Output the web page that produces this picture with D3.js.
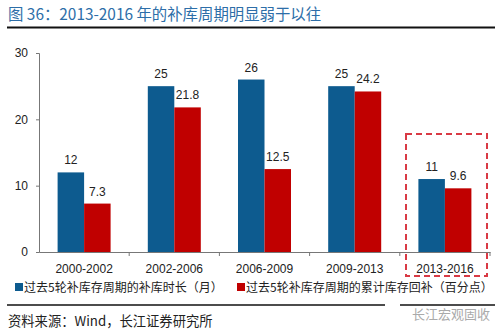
<!DOCTYPE html>
<html><head><meta charset="utf-8">
<script src="https://cdn.jsdelivr.net/npm/d3@7"></script>
<style>body{margin:0;background:#fff;}svg{display:block;font-family:"Liberation Sans",Arial,"Noto Sans CJK SC",sans-serif;}</style>
</head><body>
<svg id="c" width="500" height="335"></svg>
<script>
const categories = ["2000-2002","2002-2006","2006-2009","2009-2013","2013-2016"];
const durationMonths = [12,25,26,25,11];
const restockPct = [7.3,21.8,12.5,24.2,9.6];
const durationLabels = ["12","25","26","25","11"];
const restockLabels = ["7.3","21.8","12.5","24.2","9.6"];
const yTicks = [0,10,20,30];
const seriesNames = ["过去5轮补库存周期的补库时长（月）","过去5轮补库存周期的累计库存回补（百分点）"];
const colors = ["#0d5b8f","#c00000"];

const svg = d3.select("#c");
const cjk = '"Noto Sans CJK SC","Liberation Sans",sans-serif';

// title
svg.append("text").attr("x",8).attr("y",20).attr("font-size",15.4).attr("fill","#2d6ea8")
  .style("font-family",cjk).text("图 36：2013-2016 年的补库周期明显弱于以往");
svg.append("line").attr("x1",7).attr("x2",495).attr("y1",27.5).attr("y2",27.5).attr("stroke","#111").attr("stroke-width",2);

const x = d3.scaleBand().domain(categories).range([39,490]);
const y = d3.scaleLinear().domain([0,30]).range([252,53]);
const inner = d3.scaleBand().domain([0,1]).range([0,53]);

const g = svg.append("g");
// y axis
const ya = g.append("g").attr("transform","translate(39,0)")
  .call(d3.axisLeft(y).tickValues(yTicks).tickSize(3).tickPadding(8));
ya.select(".domain").attr("stroke","#777");
ya.selectAll(".tick line").attr("stroke","#777");
ya.selectAll("text").attr("font-size",12).attr("fill","#222").style("font-family",'"Liberation Sans",Arial,sans-serif');

// bars
const series = [durationMonths, restockPct];
const labels = [durationLabels, restockLabels];
series.forEach((vals,si)=>{
  const off = (x.bandwidth()-53)/2 + inner(si);
  g.selectAll(null).data(categories).enter().append("rect")
    .attr("x",c=>x(c)+off).attr("width",inner.bandwidth())
    .attr("y",(c,i)=>y(vals[i])).attr("height",(c,i)=>y(0)-y(vals[i]))
    .attr("fill",colors[si]);
  g.selectAll(null).data(categories).enter().append("text")
    .attr("x",c=>x(c)+off+inner.bandwidth()/2)
    .attr("y",(c,i)=>y(vals[i])-8)
    .attr("text-anchor","middle").attr("font-size",12).attr("fill","#222")
    .text((c,i)=>labels[si][i]);
});

// x axis
const xa = g.append("g").attr("transform","translate(0,252)")
  .call(d3.axisBottom(x).tickSize(0).tickPadding(12));
xa.select(".domain").attr("stroke","#777");
xa.selectAll("text").attr("font-size",12).attr("fill","#222").style("font-family",'"Liberation Sans",Arial,sans-serif');
categories.forEach((c,i)=>{
  g.append("line").attr("x1",x(c)+x.bandwidth()).attr("x2",x(c)+x.bandwidth())
   .attr("y1",252).attr("y2",256).attr("stroke","#777");
});

// dashed box
svg.append("rect").attr("x",406).attr("y",134).attr("width",81).attr("height",142)
  .attr("fill","none").attr("stroke","#d93a45").attr("stroke-width",2).attr("stroke-dasharray","6,4");

// legend
const leg = [[15,seriesNames[0]],[237,seriesNames[1]]];
leg.forEach((l,i)=>{
  svg.append("rect").attr("x",l[0]).attr("y",283).attr("width",8).attr("height",8).attr("fill",colors[i]);
  svg.append("text").attr("x",l[0]+9).attr("y",292).attr("font-size",12).attr("fill","#222")
    .style("font-family",cjk).text(l[1]);
});

// bottom line & source
svg.append("line").attr("x1",7).attr("x2",385).attr("y1",305).attr("y2",305).attr("stroke","#111").attr("stroke-width",1.5);
svg.append("line").attr("x1",400).attr("x2",495).attr("y1",305).attr("y2",305).attr("stroke","#111").attr("stroke-width",1.5);
svg.append("text").attr("x",8).attr("y",326).attr("font-size",13.3).attr("fill","#222")
  .style("font-family",cjk).text("资料来源：Wind，长江证券研究所");
svg.append("text").attr("x",412).attr("y",319).attr("font-size",13).attr("fill","#aaa")
  .style("font-family",cjk).text("长江宏观固收");
</script>
</body></html>
